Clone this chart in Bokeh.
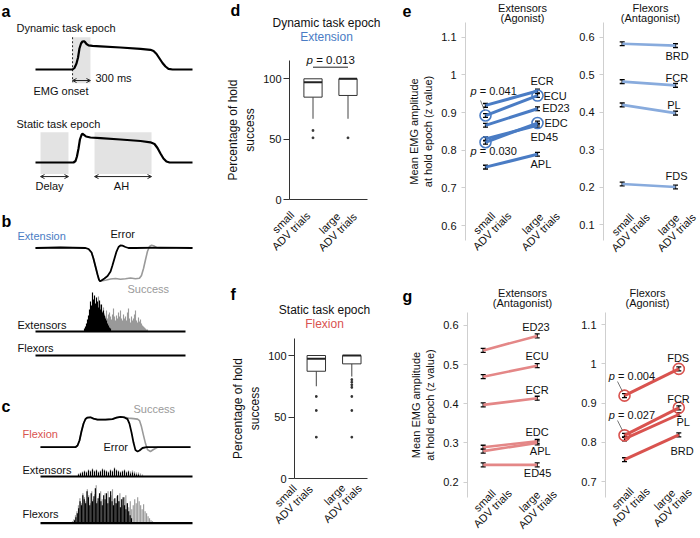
import numpy as np
from bokeh.plotting import figure
from bokeh.layouts import row, column
from bokeh.models import (Range1d, Label, Whisker, ColumnDataSource, FixedTicker,
                          TeeHead, Arrow, OpenHead, NumeralTickFormatter)
from bokeh.embed import file_html
from bokeh.resources import INLINE

FONT = "Liberation Sans"
BLUE = "#4a7cc4"
BLUE_L = "#88abdd"
RED = "#d9534f"
RED_L = "#e48787"
GRAY = "#9a9a9a"

# ---------------- data: panel a-c (schematic traces, normalised time / amplitude) ----------------
dyn_t = [0, 0.236, 0.248, 0.261, 0.271, 0.280, 0.290, 0.299, 0.308, 0.315, 0.325, 0.338, 0.363,
         0.414, 0.541, 0.669, 0.732, 0.752, 0.771, 0.790, 0.809, 0.828, 0.847, 0.873, 1.0]
dyn_v = [0, 0, 0.053, 0.212, 0.424, 0.742, 0.919, 0.989, 1.0, 0.972, 0.901, 0.855, 0.837,
         0.820, 0.777, 0.731, 0.696, 0.654, 0.548, 0.389, 0.230, 0.106, 0.025, 0, 0]
dyn_win = [0.236, 0.350]
sta_t = [0, 0.242, 0.255, 0.264, 0.274, 0.283, 0.293, 0.299, 0.309, 0.322, 0.350, 0.414, 0.541,
         0.669, 0.732, 0.758, 0.777, 0.796, 0.815, 0.834, 0.854, 1.0]
sta_v = [0, 0, 0.052, 0.209, 0.488, 0.801, 0.958, 1.0, 0.965, 0.906, 0.871, 0.850, 0.801,
         0.749, 0.704, 0.645, 0.505, 0.314, 0.139, 0.035, 0, 0]
delay_win = [0.032, 0.210]
ah_win = [0.376, 0.739]

ext_err_t = [0, 0.159, 0.318, 0.338, 0.357, 0.369, 0.382, 0.395, 0.404, 0.411, 0.420, 0.439, 0.459,
             0.478, 0.490, 0.503, 0.516, 0.529, 0.541, 0.554, 0.573, 0.592, 0.637, 0.796, 1.0]
ext_err_v = [-0.006, 0.009, -0.006, -0.036, -0.141, -0.320, -0.560, -0.799, -0.949, -1.0, -0.979,
             -0.919, -0.844, -0.710, -0.530, -0.320, -0.111, 0.024, 0.069, 0.063, 0.024, -0.006,
             -0.006, 0.003, -0.006]
ext_suc_t = [0, 0.159, 0.318, 0.338, 0.357, 0.369, 0.382, 0.395, 0.404, 0.411, 0.427, 0.452, 0.478,
             0.510, 0.541, 0.573, 0.605, 0.637, 0.662, 0.675, 0.688, 0.701, 0.713, 0.726, 0.739,
             0.752, 0.771, 0.796, 1.0]
ext_suc_v = [-0.006, 0.009, -0.006, -0.036, -0.141, -0.320, -0.560, -0.799, -0.949, -1.0, -0.984,
             -0.964, -0.934, -0.919, -0.943, -0.925, -0.904, -0.925, -0.913, -0.829, -0.620,
             -0.350, -0.111, 0.039, 0.075, 0.060, 0.009, -0.009, 0]
flx_err_t = [0, 0.233, 0.247, 0.260, 0.273, 0.287, 0.300, 0.313, 0.333, 0.353, 0.380, 0.433, 0.480,
             0.507, 0.533, 0.560, 0.580, 0.593, 0.607, 0.620, 0.633, 0.647, 0.660, 0.680, 0.707, 1.0]
flx_err_v = [0, 0, 0.057, 0.226, 0.529, 0.798, 0.949, 0.997, 1.007, 0.963, 0.929, 0.929, 0.946,
             0.997, 1.020, 1.003, 0.946, 0.795, 0.492, 0.155, -0.098, -0.145, -0.111, -0.027, 0, 0]
flx_suc_t = [0, 0.233, 0.247, 0.260, 0.273, 0.287, 0.300, 0.313, 0.333, 0.353, 0.380, 0.433, 0.480,
             0.507, 0.533, 0.560, 0.587, 0.620, 0.647, 0.660, 0.673, 0.687, 0.700, 0.713, 0.733,
             0.753, 0.780, 1.0]
flx_suc_v = [0, 0, 0.057, 0.226, 0.529, 0.798, 0.949, 0.997, 1.007, 0.963, 0.929, 0.929, 0.946,
             0.997, 1.020, 1.003, 0.980, 0.963, 0.946, 0.896, 0.694, 0.391, 0.121, -0.081, -0.145,
             -0.077, 0, 0]

# EMG burst amplitudes (arbitrary units, 1 unit = 1 px)
b_ext_err = [3, 5, 8, 12, 16, 22, 30, 26, 39, 32, 36, 28, 34, 30, 24, 31, 22, 27, 19, 21, 16, 13,
             11, 8, 6, 4, 3]
b_ext_suc = [12, 18, 26, 35, 30, 27, 22, 20, 24, 18, 15, 21, 13, 17, 19, 15, 12, 17, 23, 15, 11,
             16, 13, 19, 15, 21, 13, 11, 17, 13, 15, 11, 19, 23, 13, 9, 15, 11, 13, 17, 21, 11, 9,
             14, 10, 12, 8, 6, 5, 4, 3, 2, 2]
c_ext_err = [2, 3, 4, 5, 4, 6, 5, 7, 5, 6, 4, 5, 7, 6, 5, 4, 6, 5, 8, 6, 5, 4, 5, 6, 4, 5, 3, 4,
             3, 2, 2]
c_ext_suc = [3, 4, 5, 6, 5, 7, 6, 8, 6, 7, 5, 6, 8, 7, 6, 5, 7, 6, 9, 7, 6, 5, 6, 7, 5, 6, 5, 6,
             5, 4, 4, 3, 2]
c_flx_err = [3, 6, 10, 15, 22, 18, 28, 24, 20, 32, 26, 18, 30, 22, 27, 35, 20, 25, 30, 22, 18, 28,
             24, 30, 20, 26, 32, 22, 18, 25, 20, 28, 22, 16, 24, 26, 18, 14, 20, 12, 8, 5]
c_flx_suc = [2, 4, 8, 12, 18, 25, 20, 30, 26, 22, 34, 28, 20, 32, 24, 29, 38, 22, 27, 32, 24, 20,
             30, 26, 32, 22, 28, 34, 24, 20, 27, 22, 30, 24, 18, 26, 28, 20, 16, 22, 14, 18, 24,
             20, 26, 22, 18, 14, 19, 12, 10, 7, 5, 3, 2]

# ---------------- data: panels d, f (percentage of hold success) ----------------
groups = [0, 1]
group_labels = {0: "small\nADV trials", 1: "large\nADV trials"}
d_q1 = [84.8, 86.2]
d_med = [97.2, 100.0]
d_q3 = [100.0, 100.0]
d_low = [66.9, 66.9]
d_out_g = [0, 0, 1]
d_out_v = [57.2, 51.1, 51.1]
d_p = "0.013"
f_q1 = [87.2, 93.2]
f_med = [97.3, 100.0]
f_q3 = [100.0, 100.0]
f_low = [75.0, 82.9]
f_out_g = [0, 0, 0, 1, 1, 1, 1, 1, 1, 1]
f_out_v = [66.7, 55.3, 33.6, 80.4, 78.3, 76.2, 74.1, 66.7, 55.3, 33.6]

# ---------------- data: panels e, g (mean EMG amplitude, z value) ----------------
e_ag_names = ["ECR", "ECU", "ED23", "EDC", "ED45", "APL"]
e_ag_small = [0.919, 0.892, 0.866, 0.821, 0.830, 0.755]
e_ag_large = [0.957, 0.945, 0.910, 0.872, 0.866, 0.789]
e_ag_sig = [False, True, False, True, False, False]
e_an_names = ["BRD", "FCR", "PL", "FDS"]
e_an_small = [0.582, 0.481, 0.419, 0.208]
e_an_large = [0.577, 0.471, 0.397, 0.200]
g_an_names = ["ED23", "ECU", "ECR", "EDC", "APL", "ED45"]
g_an_small = [0.536, 0.469, 0.397, 0.289, 0.279, 0.244]
g_an_large = [0.573, 0.497, 0.414, 0.304, 0.300, 0.244]
g_ag_names = ["FDS", "FCR", "PL", "BRD"]
g_ag_small = [0.919, 0.818, 0.809, 0.756]
g_ag_large = [0.987, 0.888, 0.871, 0.819]
g_ag_sig = [True, True, False, False]
emg_se = 0.005
e_pvals = ["0.041", "0.030"]
g_pvals = ["0.004", "0.027"]


def lab(p, x, y, text, size="11px", color="#111", style="normal", align="left",
        baseline="middle", angle=0.0, x_offset=0):
    p.add_layout(Label(x=x, y=y, text=text, text_font=FONT, text_font_size=size,
                       text_color=color, text_font_style=style, text_align=align,
                       text_baseline=baseline, angle=angle, x_offset=x_offset))


def group_ticklabels(p, X, Y, centers):
    # two single-line rotated labels per group (line centres given in page pixels)
    for g, (c1, c2) in zip(groups, centers):
        first, second = group_labels[g].split("\n")
        lab(p, X(c1[0]), Y(c1[1]), first, align="center", angle=np.pi / 4)
        lab(p, X(c2[0]), Y(c2[1]), second, align="center", angle=np.pi / 4)


# ================= left column: schematic (a, b, c) =================
pa = figure(width=200, height=538, x_range=Range1d(0, 200), y_range=Range1d(538, 0),
            min_border=0, x_axis_location=None, y_axis_location=None,
            toolbar_location=None, output_backend="svg")
pa.xgrid.visible = False
pa.ygrid.visible = False
pa.outline_line_color = None


def place(ts, vs, box):
    x0, x1, yb, amp = box
    return [x0 + t * (x1 - x0) for t in ts], [yb - v * amp for v in vs]


A1 = (35, 192, 69, 28.3)
A2 = (35, 192, 162, 28.7)
BX = (35, 192, 247.3, 33.4)
CX = (40, 190, 446.7, 29.7)

for win, box, vlo, vhi in [(dyn_win, A1, -0.49, 1.14), (delay_win, A2, -0.40, 1.056),
                           (ah_win, A2, -0.40, 1.056)]:
    xs, ys = place(win, [vlo, vhi], box)
    pa.quad(left=[xs[0]], right=[xs[1]], bottom=[ys[0]], top=[ys[1]],
            fill_color="#e3e3e3", line_color=None)
xs, ys = place([dyn_win[0], dyn_win[0]], [1.14, -0.45], A1)
pa.line(xs, ys, line_color="#222", line_width=1, line_dash="2 2")

xs, ys = place(dyn_t, dyn_v, A1)
pa.line(xs, ys, line_color="black", line_width=2.2)
xs, ys = place(sta_t, sta_v, A2)
pa.line(xs, ys, line_color="black", line_width=2.2)

for win, box, v in [(dyn_win, A1, -0.39), (delay_win, A2, -0.49), (ah_win, A2, -0.49)]:
    xs, ys = place(win, [v, v], box)
    pa.add_layout(Arrow(start=OpenHead(size=4, line_width=1, line_color="#222"),
                        end=OpenHead(size=4, line_width=1, line_color="#222"),
                        x_start=xs[0], y_start=ys[0], x_end=xs[1], y_end=ys[1],
                        line_width=1, line_color="#222"))

xs, ys = place(ext_suc_t, ext_suc_v, BX)
pa.line(xs, ys, line_color=GRAY, line_width=1.6)
xs, ys = place(ext_err_t, ext_err_v, BX)
pa.line(xs, ys, line_color="black", line_width=1.8)
xs, ys = place(flx_suc_t, flx_suc_v, CX)
pa.line(xs, ys, line_color=GRAY, line_width=1.6)
xs, ys = place(flx_err_t, flx_err_v, CX)
pa.line(xs, ys, line_color="black", line_width=1.8)


def emg(base, x0, x1, bursts):
    for heights, bx0, bx1, col in bursts:
        bxs = np.linspace(bx0, bx1, len(heights))
        pa.vbar(x=bxs, width=1.15, bottom=base, top=[base - h for h in heights],
                fill_color=col, line_color=None)
    pa.line([x0, x1], [base, base], line_color="black", line_width=2.2)


emg(331, 35, 185, [(b_ext_suc, 95, 147, GRAY), (b_ext_err, 84, 110, "black")])
emg(355, 35, 185, [])
emg(476, 40, 192, [(c_ext_suc, 78, 142, GRAY), (c_ext_err, 78, 138, "black")])
emg(522.7, 40, 192, [(c_flx_suc, 72, 152, GRAY), (c_flx_err, 74, 131, "black")])

for t, x, y, col, sz, st in [
        ("a", 1, 11, "black", "16px", "bold"),
        ("Dynamic task epoch", 16, 27, "#111", "11px", "normal"),
        ("300 ms", 95, 77.5, "#111", "11px", "normal"),
        ("EMG onset", 33, 90, "#111", "11px", "normal"),
        ("Static task epoch", 16, 123, "#111", "11px", "normal"),
        ("b", 1, 221, "black", "16px", "bold"),
        ("Extension", 17, 235, BLUE, "11px", "normal"),
        ("Error", 110, 233.5, "#111", "11px", "normal"),
        ("Success", 127, 288, GRAY, "11px", "normal"),
        ("Extensors", 17, 324, "#111", "11px", "normal"),
        ("Flexors", 17, 347, "#111", "11px", "normal"),
        ("c", 1, 406, "black", "16px", "bold"),
        ("Success", 133, 408, GRAY, "11px", "normal"),
        ("Flexion", 22, 433.5, RED, "11px", "normal"),
        ("Error", 103, 446, "#111", "11px", "normal"),
        ("Extensors", 22, 469.5, "#111", "11px", "normal"),
        ("Flexors", 22, 513.5, "#111", "11px", "normal")]:
    lab(pa, x, y, t, size=sz, color=col, style=st)
lab(pa, 49, 185, "Delay", align="center")
lab(pa, 121, 185, "AH", align="center")


# ================= generic panel: full-size frame, pixel-calibrated scales =================
def fig_panel(fig_box, xm, ym):
    fx0, fy0, fx1, fy1 = fig_box
    X = lambda px: (px - xm[0]) / xm[1]
    Y = lambda py: ym[0] + (ym[1] - py) / ym[2]
    p = figure(width=fx1 - fx0, height=fy1 - fy0,
               x_range=Range1d(X(fx0), X(fx1)), y_range=Range1d(Y(fy1), Y(fy0)),
               min_border=0, toolbar_location=None, output_backend="svg")
    p.xgrid.visible = False
    p.ygrid.visible = False
    p.outline_line_color = None
    p.background_fill_color = "white"
    p.border_fill_color = "white"
    return p, X, Y


# ================= d, f: box plots =================
def box_panel(fig_box, frame_box, xm, ym, q1, med, q3, low, og, ov, xlab_centers):
    p, X, Y = fig_panel(fig_box, xm, ym)
    l, t, r, b = frame_box
    w = 0.52
    p.segment(x0=groups, y0=low, x1=groups, y1=q1, line_color="#444", line_width=1)
    p.vbar(x=groups, width=w, bottom=q1, top=q3, fill_color="white", line_color="#333",
           line_width=1)
    p.segment(x0=[g - w / 2 for g in groups], y0=med, x1=[g + w / 2 for g in groups], y1=med,
              line_color="#222", line_width=2)
    p.scatter(og, ov, marker="square", size=1.6, color="#333")
    for ax in (p.xaxis[0], p.yaxis[0]):
        ax.axis_line_color = "#333"
        ax.major_tick_line_color = "#333"
        ax.minor_tick_line_color = None
        ax.major_label_text_font = FONT
        ax.major_label_text_font_size = "11px"
        ax.major_label_text_color = "#111"
    xa = p.xaxis[0]
    xa.fixed_location = Y(b)
    xa.bounds = (X(l), X(r))
    xa.ticker = FixedTicker(ticks=groups)
    xa.major_label_text_color = None
    xa.major_tick_out = 0
    xa.major_tick_in = 0
    group_ticklabels(p, X, Y, xlab_centers)
    ya = p.yaxis[0]
    ya.fixed_location = X(l)
    ya.bounds = (Y(b), Y(t))
    ya.ticker = FixedTicker(ticks=[0, 50, 100])
    ya.major_tick_out = 6
    ya.major_tick_in = 0
    ya.major_label_standoff = 2
    ya.axis_label = "Percentage of hold\nsuccess"
    ya.axis_label_text_font = FONT
    ya.axis_label_text_font_style = "normal"
    ya.axis_label_text_font_size = "12px"
    ya.axis_label_text_color = "#111"
    ya.axis_label_standoff = 3
    return p, X, Y


def pval(p, X, Y, px, py, txt, size=11):
    lab(p, X(px), Y(py), "p", size=f"{size}px", style="italic")
    lab(p, X(px), Y(py), "= " + txt, size=f"{size}px", x_offset=0.84 * size)


pd_, Xd, Yd = box_panel((200, 0, 400, 270), (289, 60, 367, 199), (312.5, 35), (0, 199, 1.207),
                        d_q1, d_med, d_q3, d_low, d_out_g, d_out_v,
                        [((282.5, 221.5), (290.5, 230.5)), ((329, 222.5), (337, 231.5))])
lab(pd_, Xd(230), Yd(10), "d", size="16px", style="bold", color="black")
lab(pd_, Xd(326), Yd(22), "Dynamic task epoch", size="12px", align="center")
lab(pd_, Xd(326), Yd(36.5), "Extension", size="12px", align="center", color=BLUE)
pd_.line(groups, [Yd(66.7)] * 2, line_color="#222", line_width=1)
pval(pd_, Xd, Yd, 306, 59, d_p, size=11.5)

pf, Xf, Yf = box_panel((200, 270, 400, 538), (294, 338, 367, 478), (315.8, 35.5), (0, 478, 1.23),
                       f_q1, f_med, f_q3, f_low, f_out_g, f_out_v,
                       [((285, 495), (293, 504)), ((334, 494), (342, 503))])
lab(pf, Xf(230), Yf(294), "f", size="16px", style="bold", color="black")
lab(pf, Xf(324), Yf(309), "Static task epoch", size="12px", align="center")
lab(pf, Xf(324), Yf(323.5), "Flexion", size="12px", align="center", color=RED)


# ================= e, g: paired EMG amplitude plots =================
def emg_panel(fig_box, frame_box, xm, ym, ticks, small, large, names, color, lw, sig,
              name_pos, title, title_x, title_y, xlab_centers, ylabel=False):
    p, X, Y = fig_panel(fig_box, xm, ym)
    l, t, r, b = frame_box
    n = len(small)
    p.segment(x0=[0] * n, y0=small, x1=[1] * n, y1=large, line_color=color, line_width=lw)
    src = ColumnDataSource(dict(x=[0] * n + [1] * n,
                                lo=[v - emg_se for v in small + large],
                                hi=[v + emg_se for v in small + large]))
    p.add_layout(Whisker(source=src, base="x", lower="lo", upper="hi", dimension="height",
                         line_color="black", line_width=1.3,
                         lower_head=TeeHead(size=5, line_color="black", line_width=1.3),
                         upper_head=TeeHead(size=5, line_color="black", line_width=1.3)))
    cx, cy = [], []
    for s, l_, g in zip(small, large, sig):
        if g:
            cx += [0, 1]
            cy += [s, l_]
    if cx:
        p.scatter(cx, cy, marker="circle", size=11, fill_alpha=0, line_color=color,
                  line_width=1.6)
    for nm, (px, py) in zip(names, name_pos):
        lab(p, X(px), Y(py), nm, size="11px")
    lab(p, X(title_x), Y(title_y[0]), title[0], align="center")
    lab(p, X(title_x), Y(title_y[1]), title[1], align="center")
    group_ticklabels(p, X, Y, xlab_centers)
    p.xaxis.visible = False
    ax = p.yaxis[0]
    ax.fixed_location = X(l)
    ax.bounds = (Y(b), Y(t))
    ax.ticker = FixedTicker(ticks=ticks)
    ax.formatter = NumeralTickFormatter(format="0.[0]")
    ax.axis_line_color = "#cfcfcf"
    ax.major_tick_line_color = "#cfcfcf"
    ax.minor_tick_line_color = None
    ax.major_tick_out = 4
    ax.major_tick_in = 0
    ax.major_label_standoff = 5
    ax.major_label_text_font = FONT
    ax.major_label_text_font_size = "11px"
    ax.major_label_text_color = "#111"
    if ylabel:
        ax.axis_label = "Mean EMG amplitude\nat hold epoch (z value)"
        ax.axis_label_text_font = FONT
        ax.axis_label_text_font_style = "normal"
        ax.axis_label_text_font_size = "11px"
        ax.axis_label_text_color = "#111"
        ax.axis_label_standoff = 4
    return p, X, Y


peL, XeL, YeL = emg_panel((400, 0, 570, 270), (465, 22, 570, 240), (485, 52), (0.6, 225, 376.6),
                          [0.6, 0.7, 0.8, 0.9, 1.0, 1.1], e_ag_small, e_ag_large, e_ag_names,
                          BLUE, 3, e_ag_sig,
                          [(530, 80), (543, 95), (541.7, 107), (544, 122.7), (530, 136),
                           (530, 163)],
                          ("Extensors", "(Agonist)"), 522, (7, 17),
                          [((483.5, 222.5), (491.5, 230.5)), ((532, 223), (540, 231))],
                          ylabel=True)
lab(peL, XeL(402), YeL(10), "e", size="16px", style="bold", color="black")
pval(peL, XeL, YeL, 470, 90.7, e_pvals[0])
pval(peL, XeL, YeL, 470, 150, e_pvals[1])
peL.segment(x0=[XeL(480)], y0=[YeL(100)], x1=[XeL(484)], y1=[YeL(110)], line_color="#555",
            line_width=0.8)

peR, XeR, YeR = emg_panel((570, 0, 700, 270), (603, 22, 700, 240), (621.7, 53.3), (0.1, 224, 375),
                          [0.1, 0.2, 0.3, 0.4, 0.5, 0.6], e_an_small, e_an_large, e_an_names,
                          BLUE_L, 2.6, [False] * 4,
                          [(665, 55), (665, 77), (666.7, 104), (665, 175.7)],
                          ("Flexors", "(Antagonist)"), 650, (7, 17),
                          [((622, 224), (630, 232)), ((668, 224), (676, 232))])

pgL, XgL, YgL = emg_panel((400, 270, 570, 538), (467, 312, 570, 497), (482.7, 54), (0.5, 364, 392),
                          [0.2, 0.3, 0.4, 0.5, 0.6], g_an_small, g_an_large, g_an_names,
                          RED_L, 2.6, [False] * 6,
                          [(521.7, 326.7), (525, 355), (525, 389), (525, 431.7), (529.3, 450),
                           (523.3, 472.7)],
                          ("Extensors", "(Antagonist)"), 522, (292, 302),
                          [((484, 500), (492, 508)), ((529, 501), (537, 509))], ylabel=True)
lab(pgL, XgL(402), YgL(296), "g", size="16px", style="bold", color="black")

pgR, XgR, YgR = emg_panel((570, 270, 700, 538), (605, 312, 700, 497), (624, 54.3), (1.0, 363.3, 393),
                          [0.7, 0.8, 0.9, 1.0, 1.1], g_ag_small, g_ag_large, g_ag_names,
                          RED, 3, g_ag_sig,
                          [(666.7, 357.3), (666.7, 398.3), (676, 421.7), (670, 450)],
                          ("Flexors", "(Agonist)"), 647, (292, 302),
                          [((622, 498), (630, 506)), ((664, 499), (672, 507))])
pval(pgR, XgR, YgR, 608.3, 375, g_pvals[0])
pval(pgR, XgR, YgR, 608.3, 414, g_pvals[1])
pgR.segment(x0=[XgR(617), XgR(617)], y0=[YgR(381), YgR(420)], x1=[XgR(622), XgR(622)],
            y1=[YgR(391), YgR(430)], line_color="#555", line_width=0.8)

layout = row(pa, column(pd_, pf), column(row(peL, peR), row(pgL, pgR)))

open("out.html", "w").write(file_html(layout, INLINE))
